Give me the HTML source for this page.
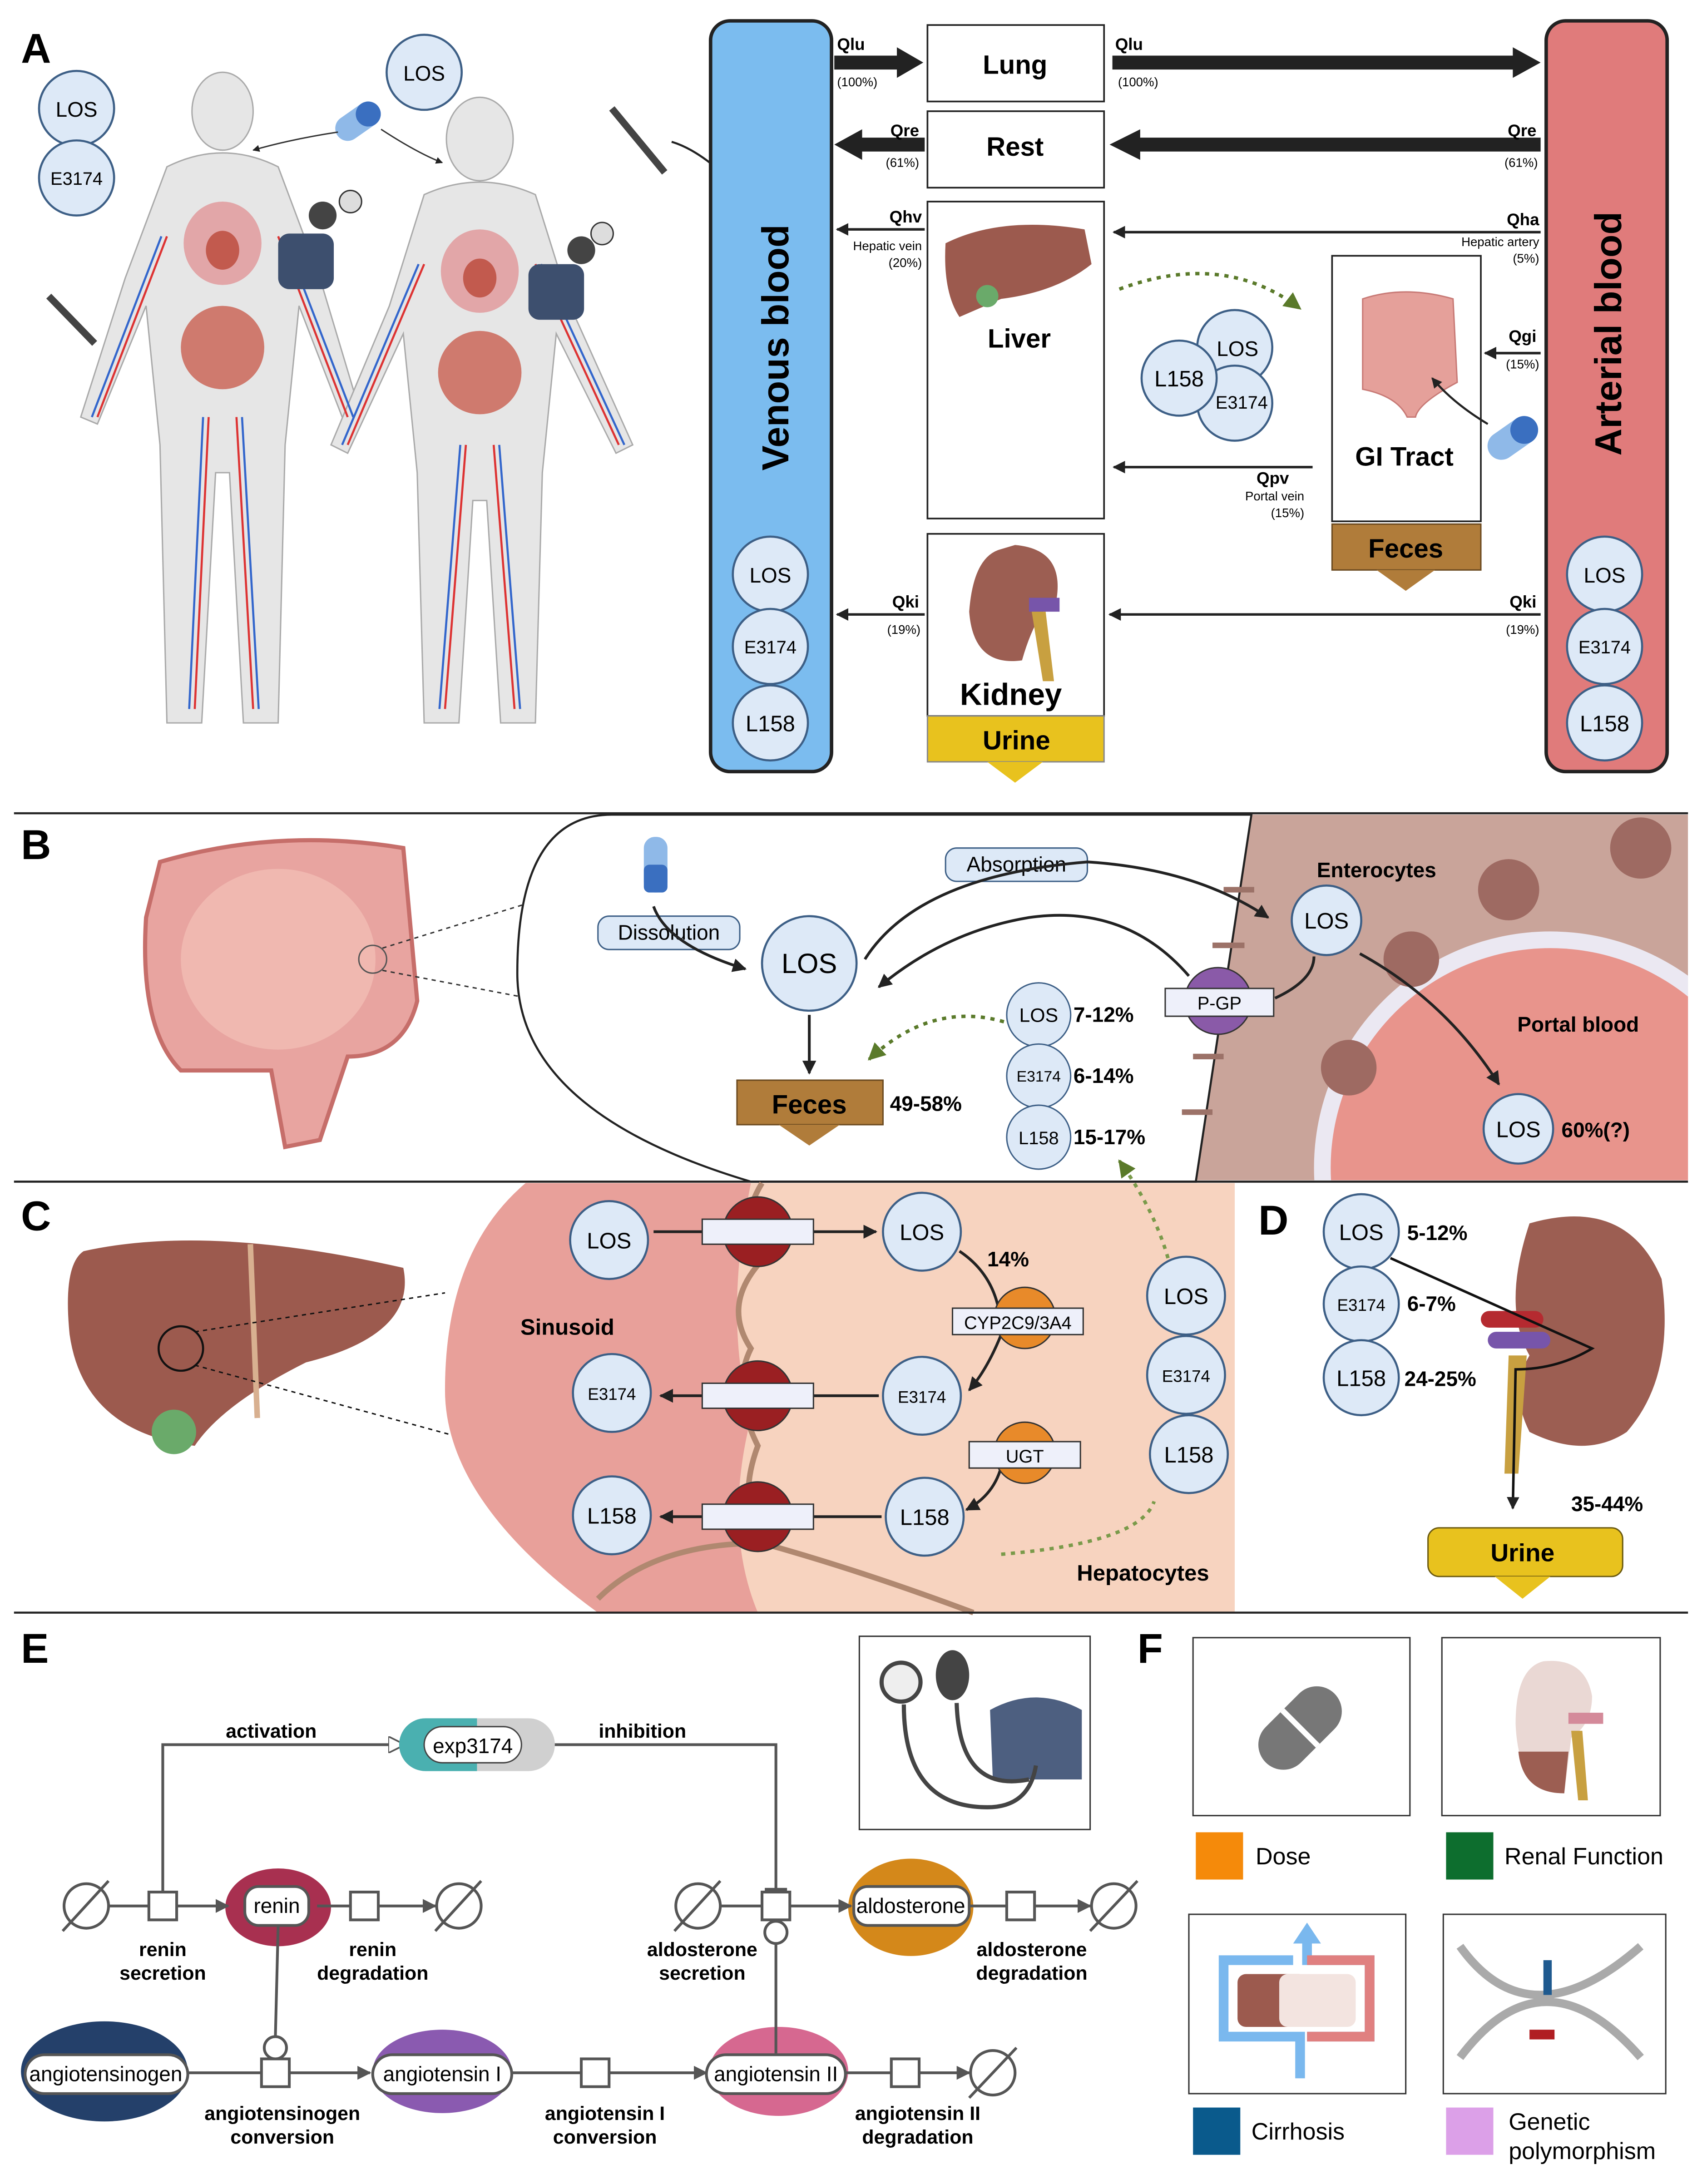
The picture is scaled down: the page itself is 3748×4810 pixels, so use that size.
<!DOCTYPE html>
<html><head><meta charset="utf-8"><style>
html,body{margin:0;padding:0;background:#fff}
svg{display:block}
text{font-family:"Liberation Sans",sans-serif}
.b{font-weight:bold}
</style></head><body>
<svg width="3748" height="4810" viewBox="0 0 1224 1571" xmlns="http://www.w3.org/2000/svg">
<defs>
<marker id="ah" viewBox="0 0 10 10" refX="9" refY="5" markerWidth="5" markerHeight="5" orient="auto"><path d="M0,0L10,5L0,10z" fill="#222"/></marker>
<marker id="ag" viewBox="0 0 10 10" refX="9" refY="5" markerWidth="5" markerHeight="5" orient="auto"><path d="M0,0L10,5L0,10z" fill="#555"/></marker>
<marker id="agr" viewBox="0 0 10 10" refX="9" refY="5" markerWidth="5" markerHeight="5" orient="auto"><path d="M0,0L10,5L0,10z" fill="#5a7a2a"/></marker>
<marker id="aw" viewBox="0 0 10 10" refX="9" refY="5" markerWidth="6" markerHeight="6" orient="auto"><path d="M0,0L10,5L0,10z" fill="#fff" stroke="#555"/></marker>
<g id="cir"><circle r="27" fill="#dde9f7" stroke="#3d5f86" stroke-width="1.5"/></g>
<clipPath id="cb"><rect x="0" y="586" width="1214" height="263"/></clipPath>
</defs>
<rect width="1224" height="1571" fill="#fff"/>

<!-- ===== PANEL A ===== -->
<text x="15" y="45" font-size="30" class="b">A</text>
<g fill="#e6e6e6" stroke="#aaa" stroke-width="1">
<ellipse cx="160" cy="80" rx="22" ry="28"/>
<path d="M120,120 Q160,100 200,120 L230,200 L260,300 L248,305 L215,220 L205,320 L200,520 L175,520 L165,340 L155,340 L145,520 L120,520 L115,320 L105,220 L70,305 L58,300 L90,200 Z"/>
<ellipse cx="345" cy="100" rx="24" ry="30"/>
<path d="M305,140 Q345,122 385,140 L410,220 L455,320 L443,326 L400,240 L390,340 L385,520 L360,520 L350,360 L340,360 L330,520 L305,520 L300,340 L290,240 L250,326 L238,320 L280,220 Z"/>
</g>
<g fill="#c25a4e"><ellipse cx="160" cy="175" rx="28" ry="30" fill="#e2a6a8"/><ellipse cx="160" cy="180" rx="12" ry="14"/><ellipse cx="160" cy="250" rx="30" ry="30" fill="#cf7a6e"/>
<ellipse cx="345" cy="195" rx="28" ry="30" fill="#e2a6a8"/><ellipse cx="345" cy="200" rx="12" ry="14"/><ellipse cx="345" cy="268" rx="30" ry="30" fill="#cf7a6e"/></g>
<g stroke="#d33" stroke-width="1.5" fill="none"><path d="M150,300 L140,510 M170,300 L182,510 M120,170 L70,300 M200,170 L250,300"/><path d="M335,320 L320,510 M355,320 L370,510 M305,190 L250,320 M385,190 L445,320"/></g>
<g stroke="#36c" stroke-width="1.5" fill="none"><path d="M146,300 L136,510 M174,300 L186,510 M116,170 L66,300 M204,170 L254,300"/><path d="M331,320 L316,510 M359,320 L374,510 M301,190 L246,320 M389,190 L449,320"/></g>
<rect x="200" y="168" width="40" height="40" rx="8" fill="#3d4f6e"/><circle cx="232" cy="155" r="10" fill="#444"/><circle cx="252" cy="145" r="8" fill="#ddd" stroke="#333"/>
<rect x="380" y="190" width="40" height="40" rx="8" fill="#3d4f6e"/><circle cx="418" cy="180" r="10" fill="#444"/><circle cx="433" cy="168" r="8" fill="#ddd" stroke="#333"/>
<g transform="rotate(-35 258 88)"><rect x="240" y="78" width="36" height="18" rx="9" fill="#8fb9e8"/><rect x="258" y="78" width="18" height="18" rx="9" fill="#3a6fc0"/></g>
<path d="M243,95 Q210,100 182,108" fill="none" stroke="#333" marker-end="url(#ah)"/>
<path d="M274,93 Q300,110 318,117" fill="none" stroke="#333" marker-end="url(#ah)"/>
<line x1="35" y1="213" x2="68" y2="247" stroke="#444" stroke-width="5"/><line x1="440" y1="78" x2="478" y2="124" stroke="#444" stroke-width="5"/>
<path d="M483,102 Q510,110 544,150" fill="none" stroke="#222" stroke-width="1.5" marker-end="url(#ah)"/>
<use href="#cir" x="305" y="52"/><text x="305" y="58" font-size="15" text-anchor="middle">LOS</text>
<use href="#cir" x="55" y="78"/><text x="55" y="84" font-size="15" text-anchor="middle">LOS</text>
<use href="#cir" x="55" y="128"/><text x="55" y="133" font-size="13" text-anchor="middle">E3174</text>

<rect x="511" y="15" width="87" height="540" rx="14" fill="#7bbcef" stroke="#222" stroke-width="2.5"/>
<text transform="translate(567,250) rotate(-90)" font-size="27" class="b" text-anchor="middle">Venous blood</text>
<rect x="1112" y="15" width="87" height="540" rx="14" fill="#e07b7b" stroke="#222" stroke-width="2.5"/>
<text transform="translate(1166,240) rotate(-90)" font-size="27" class="b" text-anchor="middle">Arterial blood</text>
<g font-size="15" text-anchor="middle">
<use href="#cir" x="554" y="413"/><text x="554" y="419">LOS</text>
<use href="#cir" x="554" y="465"/><text x="554" y="470" font-size="13">E3174</text>
<use href="#cir" x="554" y="520"/><text x="554" y="526" font-size="16">L158</text>
<use href="#cir" x="1154" y="413"/><text x="1154" y="419">LOS</text>
<use href="#cir" x="1154" y="465"/><text x="1154" y="470" font-size="13">E3174</text>
<use href="#cir" x="1154" y="520"/><text x="1154" y="526" font-size="16">L158</text>
</g>
<g fill="#fff" stroke="#222" stroke-width="1.2">
<rect x="667" y="18" width="127" height="55"/><rect x="667" y="80" width="127" height="55"/>
<rect x="667" y="145" width="127" height="228"/><rect x="667" y="384" width="127" height="131"/>
<rect x="958" y="184" width="107" height="191"/></g>
<text x="730" y="53" font-size="19" class="b" text-anchor="middle">Lung</text>
<text x="730" y="112" font-size="19" class="b" text-anchor="middle">Rest</text>
<path d="M680,175 Q720,155 780,165 L785,190 Q760,210 720,215 L690,228 Q678,210 680,175z" fill="#9c5a4e"/><circle cx="710" cy="213" r="8" fill="#6aaa6a"/>
<text x="733" y="250" font-size="19" class="b" text-anchor="middle">Liver</text>
<path d="M720,395 Q700,400 697,440 Q700,480 735,475 Q745,440 760,430 Q765,395 730,392z" fill="#9c5e52"/><rect x="740" y="430" width="22" height="10" fill="#7755aa"/><path d="M742,440 L750,490 L758,490 L752,440z" fill="#c8a040"/>
<text x="727" y="507" font-size="22" class="b" text-anchor="middle">Kidney</text>
<rect x="667" y="515" width="127" height="33" fill="#e8c21e" stroke="#888"/><path d="M710,548 L730,563 L750,548z" fill="#e8c21e"/>
<text x="731" y="539" font-size="19" class="b" text-anchor="middle">Urine</text>
<path d="M980,215 Q1010,205 1045,215 L1048,275 Q1020,290 1018,300 L1012,300 Q1005,285 980,280z" fill="#e5a09a" stroke="#c87a76"/>
<text x="1010" y="335" font-size="19" class="b" text-anchor="middle">GI Tract</text>
<rect x="958" y="377" width="107" height="33" fill="#b07c3a" stroke="#6b4a20"/><path d="M990,410 L1011,425 L1032,410z" fill="#b07c3a"/>
<text x="1011" y="401" font-size="19" class="b" text-anchor="middle">Feces</text>
<g transform="rotate(-35 1088 315)"><rect x="1068" y="305" width="40" height="20" rx="10" fill="#8fb9e8"/><rect x="1088" y="305" width="20" height="20" rx="10" fill="#3a6fc0"/></g>
<path d="M1070,305 Q1045,290 1030,272" fill="none" stroke="#222" stroke-width="1.5" marker-end="url(#ah)"/>
<path d="M805,208 Q880,180 935,222" fill="none" stroke="#5a7a2a" stroke-width="2.5" stroke-dasharray="3,4" marker-end="url(#agr)"/>
<g font-size="15" text-anchor="middle">
<use href="#cir" x="888" y="250"/><text x="890" y="256">LOS</text>
<use href="#cir" x="888" y="290"/><text x="893" y="294" font-size="13">E3174</text>
<use href="#cir" x="848" y="272"/><text x="848" y="278" font-size="16">L158</text>
</g>
<path d="M600,45 L648,45" stroke="#222" stroke-width="10"/><path d="M645,34 L664,45 L645,56z" fill="#222"/>
<path d="M800,45 L1090,45" stroke="#222" stroke-width="10"/><path d="M1088,34 L1108,45 L1088,56z" fill="#222"/>
<path d="M618,104 L665,104" stroke="#222" stroke-width="10"/><path d="M620,93 L600,104 L620,115z" fill="#222"/>
<path d="M818,104 L1108,104" stroke="#222" stroke-width="10"/><path d="M820,93 L798,104 L820,115z" fill="#222"/>
<g stroke="#222" stroke-width="1.8" marker-end="url(#ah)">
<line x1="665" y1="165" x2="602" y2="165"/><line x1="1108" y1="167" x2="801" y2="167"/>
<line x1="1108" y1="254" x2="1068" y2="254"/><line x1="944" y1="336" x2="801" y2="336"/>
<line x1="665" y1="442" x2="602" y2="442"/><line x1="1108" y1="442" x2="798" y2="442"/></g>
<g font-size="12" class="b"><text x="602" y="36">Qlu</text><text x="802" y="36">Qlu</text>
<text x="661" y="98" text-anchor="end">Qre</text><text x="1105" y="98" text-anchor="end">Qre</text>
<text x="663" y="160" text-anchor="end">Qhv</text><text x="1107" y="162" text-anchor="end">Qha</text>
<text x="1105" y="246" text-anchor="end">Qgi</text><text x="927" y="348" text-anchor="end">Qpv</text>
<text x="661" y="437" text-anchor="end">Qki</text><text x="1105" y="437" text-anchor="end">Qki</text></g>
<g font-size="9"><text x="602" y="62">(100%)</text><text x="804" y="62">(100%)</text>
<text x="661" y="120" text-anchor="end">(61%)</text><text x="1106" y="120" text-anchor="end">(61%)</text>
<text x="663" y="180" text-anchor="end">Hepatic vein</text><text x="663" y="192" text-anchor="end">(20%)</text>
<text x="1107" y="177" text-anchor="end">Hepatic artery</text><text x="1107" y="189" text-anchor="end">(5%)</text>
<text x="1107" y="265" text-anchor="end">(15%)</text>
<text x="938" y="360" text-anchor="end">Portal vein</text><text x="938" y="372" text-anchor="end">(15%)</text>
<text x="662" y="456" text-anchor="end">(19%)</text><text x="1107" y="456" text-anchor="end">(19%)</text></g>

<line x1="10" y1="585" x2="1214" y2="585" stroke="#222" stroke-width="1.5"/>

<!-- ===== PANEL B ===== -->
<text x="15" y="618" font-size="30" class="b">B</text>
<path d="M115,620 Q200,595 290,610 L300,720 Q290,760 250,760 L230,820 L205,825 L195,770 L130,770 Q100,740 105,660z" fill="#e8a4a0" stroke="#c66e6a" stroke-width="3"/>
<ellipse cx="200" cy="690" rx="70" ry="65" fill="#f0b8b0"/>
<circle cx="268" cy="690" r="10" fill="none" stroke="#555"/>
<line x1="275" y1="682" x2="395" y2="645" stroke="#333" stroke-dasharray="3,3"/><line x1="275" y1="698" x2="380" y2="718" stroke="#333" stroke-dasharray="3,3"/>
<g clip-path="url(#cb)">
<path d="M900,586 L1214,586 L1214,850 L840,850 Q860,760 900,586z" fill="#c9a49a"/>
<circle cx="1115" cy="840" r="170" fill="#ebe8f2"/>
<circle cx="1115" cy="840" r="158" fill="#e8948c"/>
<g fill="#9e6a62"><circle cx="1085" cy="640" r="22"/><circle cx="1180" cy="610" r="22"/><circle cx="1015" cy="690" r="20"/><circle cx="970" cy="768" r="20"/></g>
</g>
<path d="M372,700 Q372,586 440,586 L900,586 L860,850 L540,850 Q372,800 372,700z" fill="#fff" stroke="#222" stroke-width="1.5"/>
<g stroke="#9c7268" stroke-width="4"><line x1="902" y1="640" x2="880" y2="640"/><line x1="895" y1="680" x2="872" y2="680"/><line x1="888" y1="720" x2="866" y2="720"/><line x1="880" y1="760" x2="858" y2="760"/><line x1="872" y1="800" x2="850" y2="800"/></g>
<text x="1135" y="742" font-size="15" class="b" text-anchor="middle">Portal blood</text>
<text x="990" y="631" font-size="15" class="b" text-anchor="middle">Enterocytes</text>
<rect x="463" y="602" width="17" height="40" rx="8" fill="#8fb9e8"/><rect x="463" y="622" width="17" height="20" rx="4" fill="#3a6fc0"/>
<rect x="430" y="659" width="102" height="24" rx="8" fill="#dde9f7" stroke="#3d5f86"/><text x="481" y="676" font-size="15" text-anchor="middle">Dissolution</text>
<rect x="680" y="610" width="102" height="24" rx="8" fill="#dde9f7" stroke="#3d5f86"/><text x="731" y="627" font-size="15" text-anchor="middle">Absorption</text>
<circle cx="582" cy="693" r="34" fill="#dde9f7" stroke="#3d5f86" stroke-width="1.5"/><text x="582" y="700" font-size="20" text-anchor="middle">LOS</text>
<circle cx="954" cy="662" r="25" fill="#dde9f7" stroke="#3d5f86" stroke-width="1.5"/><text x="954" y="668" font-size="16" text-anchor="middle">LOS</text>
<circle cx="1092" cy="812" r="25" fill="#dde9f7" stroke="#3d5f86" stroke-width="1.5"/><text x="1092" y="818" font-size="16" text-anchor="middle">LOS</text>
<text x="1123" y="818" font-size="15" class="b">60%(?)</text>
<g stroke="#222" stroke-width="2" fill="none" marker-end="url(#ah)">
<path d="M470,652 Q480,680 536,697"/>
<path d="M622,690 Q660,630 782,620 Q860,625 912,660"/>
<path d="M855,702 Q810,650 740,660 Q680,670 632,710"/>
<path d="M978,686 Q1040,720 1078,780"/>
<line x1="582" y1="730" x2="582" y2="772"/></g>
<path d="M917,718 Q945,705 945,688" stroke="#222" stroke-width="2" fill="none"/>
<circle cx="876" cy="720" r="24" fill="#8a5aa8" stroke="#333"/>
<rect x="838" y="711" width="78" height="20" fill="#eef0fa" stroke="#333"/><text x="877" y="726" font-size="13" text-anchor="middle">P-GP</text>
<rect x="530" y="777" width="105" height="32" fill="#b07c3a" stroke="#6b4a20"/><path d="M560,809 L582,824 L604,809z" fill="#b07c3a"/>
<text x="582" y="801" font-size="19" class="b" text-anchor="middle">Feces</text>
<text x="640" y="799" font-size="15" class="b">49-58%</text>
<path d="M722,735 Q670,720 625,762" fill="none" stroke="#5a7a2a" stroke-width="2.5" stroke-dasharray="3,4" marker-end="url(#agr)"/>
<g text-anchor="middle"><circle cx="747" cy="730" r="23" fill="#dde9f7" stroke="#3d5f86"/><text x="747" y="735" font-size="14">LOS</text>
<circle cx="747" cy="774" r="23" fill="#dde9f7" stroke="#3d5f86"/><text x="747" y="778" font-size="11">E3174</text>
<circle cx="747" cy="818" r="23" fill="#dde9f7" stroke="#3d5f86"/><text x="747" y="823" font-size="13">L158</text></g>
<g font-size="15" class="b"><text x="772" y="735">7-12%</text><text x="772" y="779">6-14%</text><text x="772" y="823">15-17%</text></g>

<line x1="10" y1="850" x2="1214" y2="850" stroke="#222" stroke-width="1.5"/>

<!-- ===== PANEL C ===== -->
<text x="15" y="885" font-size="30" class="b">C</text>
<path d="M60,900 Q150,880 290,912 Q300,960 220,980 Q160,1010 140,1040 Q60,1030 50,960 Q45,910 60,900z" fill="#9c5a4e"/>
<path d="M180,895 L185,1020" stroke="#d8b090" stroke-width="4"/><circle cx="125" cy="1030" r="16" fill="#6aaa6a"/>
<circle cx="130" cy="970" r="16" fill="none" stroke="#111" stroke-width="1.5"/>
<line x1="140" y1="958" x2="320" y2="930" stroke="#111" stroke-dasharray="3,3"/><line x1="140" y1="982" x2="335" y2="1035" stroke="#111" stroke-dasharray="3,3"/>
<path d="M378,851 L888,851 L888,1160 L430,1160 Q320,1080 320,1000 Q320,900 378,851z" fill="#f7d3bf"/>
<path d="M378,851 L540,851 Q520,950 540,1020 Q520,1100 545,1160 L430,1160 Q320,1080 320,1000 Q320,900 378,851z" fill="#e8a09a"/>
<path d="M548,851 Q530,880 545,910 Q520,940 540,970 Q525,1000 545,1040 Q530,1080 548,1110 Q470,1110 430,1150" fill="none" stroke="#b08870" stroke-width="4"/>
<path d="M548,1110 Q620,1130 700,1160" fill="none" stroke="#b08870" stroke-width="4"/>
<text x="408" y="960" font-size="16" class="b" text-anchor="middle">Sinusoid</text>
<text x="822" y="1137" font-size="16" class="b" text-anchor="middle">Hepatocytes</text>
<g text-anchor="middle">
<circle cx="438" cy="892" r="28" fill="#dde9f7" stroke="#3d5f86" stroke-width="1.5"/><text x="438" y="898" font-size="16">LOS</text>
<circle cx="663" cy="886" r="28" fill="#dde9f7" stroke="#3d5f86" stroke-width="1.5"/><text x="663" y="892" font-size="16">LOS</text>
<circle cx="440" cy="1002" r="28" fill="#dde9f7" stroke="#3d5f86" stroke-width="1.5"/><text x="440" y="1007" font-size="12">E3174</text>
<circle cx="663" cy="1004" r="28" fill="#dde9f7" stroke="#3d5f86" stroke-width="1.5"/><text x="663" y="1009" font-size="12">E3174</text>
<circle cx="440" cy="1090" r="28" fill="#dde9f7" stroke="#3d5f86" stroke-width="1.5"/><text x="440" y="1096" font-size="16">L158</text>
<circle cx="665" cy="1091" r="28" fill="#dde9f7" stroke="#3d5f86" stroke-width="1.5"/><text x="665" y="1097" font-size="16">L158</text>
<circle cx="853" cy="932" r="28" fill="#dde9f7" stroke="#3d5f86" stroke-width="1.5"/><text x="853" y="938" font-size="16">LOS</text>
<circle cx="853" cy="989" r="28" fill="#dde9f7" stroke="#3d5f86" stroke-width="1.5"/><text x="853" y="994" font-size="12">E3174</text>
<circle cx="855" cy="1046" r="28" fill="#dde9f7" stroke="#3d5f86" stroke-width="1.5"/><text x="855" y="1052" font-size="16">L158</text></g>
<g stroke="#222" stroke-width="2" marker-end="url(#ah)"><line x1="470" y1="886" x2="630" y2="886"/><line x1="632" y1="1004" x2="475" y2="1004"/><line x1="634" y1="1091" x2="475" y2="1091"/>
<path d="M690,900 Q720,920 720,960 Q710,985 697,1000" fill="none"/><path d="M722,1030 Q725,1070 695,1086" fill="none"/></g>
<g fill="#9a1f22" stroke="#333"><circle cx="545" cy="886" r="25"/><circle cx="545" cy="1004" r="25"/><circle cx="545" cy="1091" r="25"/></g>
<g fill="#eef0fa" stroke="#333"><rect x="505" y="877" width="80" height="18"/><rect x="505" y="995" width="80" height="18"/><rect x="505" y="1082" width="80" height="18"/></g>
<circle cx="737" cy="948" r="22" fill="#e88a2a" stroke="#333"/><rect x="685" y="941" width="94" height="19" fill="#eef0fa" stroke="#333"/><text x="732" y="956" font-size="13" text-anchor="middle">CYP2C9/3A4</text>
<circle cx="737" cy="1045" r="22" fill="#e88a2a" stroke="#333"/><rect x="697" y="1037" width="80" height="19" fill="#eef0fa" stroke="#333"/><text x="737" y="1052" font-size="13" text-anchor="middle">UGT</text>
<text x="710" y="911" font-size="15" class="b">14%</text>
<path d="M720,1118 Q820,1110 830,1080 M840,905 Q830,870 805,835" fill="none" stroke="#7a9a4a" stroke-width="2.5" stroke-dasharray="3,4" marker-end="url(#agr)"/>

<!-- ===== PANEL D ===== -->
<text x="905" y="888" font-size="30" class="b">D</text>
<path d="M1100,880 Q1170,860 1195,920 Q1205,990 1170,1030 Q1140,1050 1100,1030 Q1085,1000 1100,975 Q1080,940 1100,880z" fill="#9c5e52"/>
<rect x="1065" y="943" width="45" height="12" rx="6" fill="#b52a30"/><rect x="1070" y="958" width="45" height="12" rx="6" fill="#7755aa"/>
<path d="M1085,975 L1082,1060 L1092,1060 L1098,975z" fill="#c8a040"/>
<path d="M1000,905 Q1100,950 1145,970 Q1120,985 1090,985 L1088,1085" fill="none" stroke="#111" stroke-width="1.8" marker-end="url(#ah)"/>
<g text-anchor="middle"><circle cx="979" cy="886" r="27" fill="#dde9f7" stroke="#3d5f86" stroke-width="1.5"/><text x="979" y="892" font-size="16">LOS</text>
<circle cx="979" cy="938" r="27" fill="#dde9f7" stroke="#3d5f86" stroke-width="1.5"/><text x="979" y="943" font-size="12">E3174</text>
<circle cx="979" cy="991" r="27" fill="#dde9f7" stroke="#3d5f86" stroke-width="1.5"/><text x="979" y="997" font-size="16">L158</text></g>
<g font-size="15" class="b"><text x="1012" y="892">5-12%</text><text x="1012" y="943">6-7%</text><text x="1010" y="997">24-25%</text><text x="1130" y="1087">35-44%</text></g>
<rect x="1027" y="1099" width="140" height="35" rx="8" fill="#e8c21e" stroke="#6b5a10"/><path d="M1075,1134 L1095,1150 L1115,1134z" fill="#e8c21e"/>
<text x="1095" y="1123" font-size="18" class="b" text-anchor="middle">Urine</text>

<line x1="10" y1="1160" x2="1214" y2="1160" stroke="#222" stroke-width="1.5"/>

<!-- ===== PANEL E ===== -->
<text x="15" y="1196" font-size="30" class="b">E</text>
<rect x="618" y="1177" width="166" height="139" fill="#fff" stroke="#333"/>
<circle cx="648" cy="1210" r="14" fill="#eee" stroke="#444" stroke-width="3"/><ellipse cx="685" cy="1205" rx="12" ry="18" fill="#444"/>
<path d="M712,1230 Q745,1212 778,1230 L778,1280 L714,1280z" fill="#4d5f80"/>
<path d="M650,1226 Q650,1300 710,1300 Q740,1300 745,1270 M688,1225 Q690,1290 740,1280" fill="none" stroke="#444" stroke-width="3"/>
<g stroke="#555" stroke-width="2" fill="none">
<path d="M117,1362 L117,1255 L290,1255" marker-end="url(#aw)"/>
<path d="M398,1255 L558,1255 L558,1362"/>
</g>
<rect x="550" y="1358" width="16" height="4" fill="#555"/>
<rect x="287" y="1236" width="112" height="38" rx="19" fill="#d0d0d0"/><path d="M306,1236 A19,19 0 0 0 306,1274 L343,1274 L343,1236z" fill="#4ab0b0"/>
<rect x="305" y="1242" width="70" height="26" rx="13" fill="#fff" stroke="#444"/>
<text x="340" y="1261" font-size="15" text-anchor="middle">exp3174</text>
<g font-size="14" class="b"><text x="195" y="1250" text-anchor="middle">activation</text><text x="462" y="1250" text-anchor="middle">inhibition</text></g>
<ellipse cx="200" cy="1372" rx="38" ry="28" fill="#a83050"/>
<ellipse cx="655" cy="1372" rx="45" ry="35" fill="#d4881a"/>
<ellipse cx="75" cy="1490" rx="60" ry="36" fill="#24406a"/>
<ellipse cx="318" cy="1490" rx="50" ry="30" fill="#8a5ab0"/>
<ellipse cx="560" cy="1490" rx="50" ry="32" fill="#d66890"/>
<g stroke="#555" stroke-width="2" fill="none">
<circle cx="62" cy="1371" r="16"/><line x1="45" y1="1389" x2="78" y2="1353"/>
<circle cx="330" cy="1371" r="16"/><line x1="313" y1="1389" x2="346" y2="1353"/>
<circle cx="502" cy="1371" r="16"/><line x1="485" y1="1389" x2="518" y2="1353"/>
<circle cx="801" cy="1371" r="16"/><line x1="784" y1="1389" x2="818" y2="1353"/>
<circle cx="714" cy="1491" r="16"/><line x1="697" y1="1509" x2="731" y2="1473"/>
<line x1="78" y1="1371" x2="107" y2="1371"/><line x1="127" y1="1371" x2="164" y2="1371" marker-end="url(#ag)"/>
<line x1="228" y1="1371" x2="252" y2="1371"/><line x1="272" y1="1371" x2="313" y2="1371" marker-end="url(#ag)"/>
<line x1="518" y1="1371" x2="548" y2="1371"/><line x1="568" y1="1371" x2="612" y2="1371" marker-end="url(#ag)"/>
<line x1="697" y1="1371" x2="724" y2="1371"/><line x1="744" y1="1371" x2="784" y2="1371" marker-end="url(#ag)"/>
<line x1="135" y1="1491" x2="188" y2="1491"/><line x1="208" y1="1491" x2="266" y2="1491" marker-end="url(#ag)"/>
<line x1="368" y1="1491" x2="418" y2="1491"/><line x1="438" y1="1491" x2="508" y2="1491" marker-end="url(#ag)"/>
<line x1="608" y1="1491" x2="641" y2="1491"/><line x1="661" y1="1491" x2="697" y2="1491" marker-end="url(#ag)"/>
<line x1="200" y1="1385" x2="198" y2="1465"/><line x1="558" y1="1398" x2="558" y2="1477"/>
</g>
<g fill="#fff" stroke="#555" stroke-width="2">
<rect x="107" y="1361" width="20" height="20"/><rect x="252" y="1361" width="20" height="20"/><rect x="548" y="1361" width="20" height="20"/><rect x="724" y="1361" width="20" height="20"/>
<rect x="188" y="1481" width="20" height="20"/><rect x="418" y="1481" width="20" height="20"/><rect x="641" y="1481" width="20" height="20"/>
<circle cx="198" cy="1473" r="8"/><circle cx="558" cy="1390" r="8"/>
<rect x="176" y="1357" width="46" height="28" rx="10"/><rect x="614" y="1357" width="83" height="28" rx="10"/>
<rect x="18" y="1478" width="117" height="28" rx="14"/><rect x="268" y="1478" width="100" height="28" rx="14"/><rect x="508" y="1478" width="100" height="28" rx="14"/>
</g>
<g font-size="15" text-anchor="middle"><text x="199" y="1376">renin</text><text x="655" y="1376">aldosterone</text>
<text x="76" y="1497">angiotensinogen</text><text x="318" y="1497">angiotensin I</text><text x="558" y="1497">angiotensin II</text></g>
<g font-size="14" class="b" text-anchor="middle">
<text x="117" y="1407">renin</text><text x="117" y="1424">secretion</text>
<text x="268" y="1407">renin</text><text x="268" y="1424">degradation</text>
<text x="505" y="1407">aldosterone</text><text x="505" y="1424">secretion</text>
<text x="742" y="1407">aldosterone</text><text x="742" y="1424">degradation</text>
<text x="203" y="1525">angiotensinogen</text><text x="203" y="1542">conversion</text>
<text x="435" y="1525">angiotensin I</text><text x="435" y="1542">conversion</text>
<text x="660" y="1525">angiotensin II</text><text x="660" y="1542">degradation</text></g>

<!-- ===== PANEL F ===== -->
<text x="818" y="1196" font-size="30" class="b">F</text>
<g fill="#fff" stroke="#333"><rect x="858" y="1178" width="156" height="128"/><rect x="1037" y="1178" width="157" height="128"/><rect x="855" y="1377" width="156" height="129"/><rect x="1038" y="1377" width="160" height="129"/></g>
<g transform="rotate(-45 935 1243)"><rect x="900" y="1225" width="70" height="36" rx="18" fill="#777"/><line x1="935" y1="1225" x2="935" y2="1261" stroke="#fff" stroke-width="4"/></g>
<path d="M1110,1195 Q1090,1200 1090,1240 Q1092,1290 1125,1290 L1130,1250 Q1145,1240 1145,1220 Q1140,1192 1110,1195z" fill="#ead8d4"/><path d="M1092,1260 Q1095,1290 1125,1290 L1128,1260z" fill="#9c5e52"/>
<rect x="1128" y="1232" width="25" height="8" fill="#d48a9a"/><path d="M1130,1245 L1135,1295 L1142,1295 L1138,1245z" fill="#c8a040"/>
<path d="M935,1495 L935,1465 L880,1465 L880,1410 L930,1410 M940,1390 L940,1410 L985,1410 L985,1465 L940,1465" fill="none" stroke="#7ab8ee" stroke-width="7"/>
<path d="M940,1410 L985,1410 L985,1465 L940,1465" fill="none" stroke="#e08080" stroke-width="7"/>
<path d="M940,1383 L930,1398 L950,1398z" fill="#7ab8ee"/>
<rect x="890" y="1420" width="50" height="38" rx="6" fill="#9c5a4e"/><rect x="920" y="1420" width="55" height="38" rx="6" fill="#f3e4e0"/>
<path d="M1050,1400 Q1100,1470 1180,1400 M1050,1480 Q1110,1400 1180,1480" fill="none" stroke="#aaa" stroke-width="6"/>
<rect x="1110" y="1410" width="6" height="25" fill="#1f5a8f"/><rect x="1100" y="1460" width="18" height="7" fill="#b01e22"/>
<rect x="860" y="1318" width="34" height="34" fill="#f58a0a"/><text x="903" y="1341" font-size="17">Dose</text>
<rect x="1040" y="1318" width="34" height="34" fill="#0d6e2e"/><text x="1082" y="1341" font-size="17">Renal Function</text>
<rect x="858" y="1516" width="34" height="34" fill="#0a5a8c"/><text x="900" y="1539" font-size="17">Cirrhosis</text>
<rect x="1040" y="1516" width="34" height="34" fill="#dca0e8"/><text x="1085" y="1532" font-size="17">Genetic</text><text x="1085" y="1553" font-size="17">polymorphism</text>
</svg>
</body></html>
